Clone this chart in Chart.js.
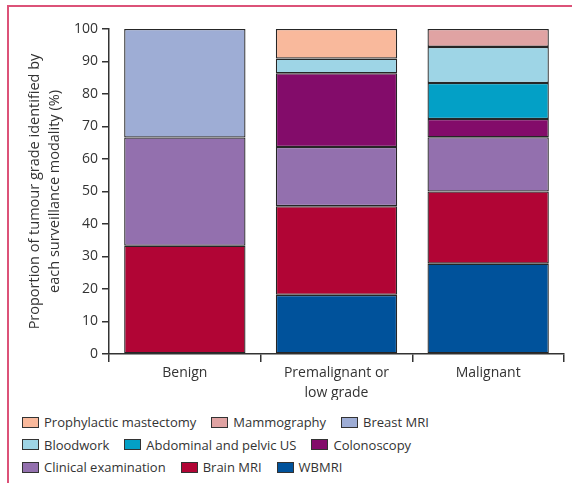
<!DOCTYPE html>
<html>
<head>
<meta charset="utf-8">
<script src="https://cdn.jsdelivr.net/npm/chart.js@4/dist/chart.umd.min.js"></script>
<style>
  html, body { margin: 0; padding: 0; background: #fff; }
  body { width: 572px; height: 483px; position: relative; overflow: hidden; font-family: "Open Sans", sans-serif; color: #333; }
  .frame { position: absolute; left: 7px; top: 5px; right: -4px; bottom: -4px; border-top: 2px solid #dc5278; border-left: 2px solid #dc5278; pointer-events: none; }
  #wrap { position: absolute; left: 0; top: 0; width: 572px; height: 400px; }
  #legend { position: absolute; left: 22px; top: 411px; font-size: 13px; line-height: 22px; }
  .row { display: flex; align-items: center; height: 22.5px; }
  .item { display: flex; align-items: center; margin-right: 15px; white-space: nowrap; }
  .box { width: 15px; height: 9px; border: 1.5px solid #333; margin-right: 5px; }
</style>
</head>
<body>
<div class="frame"></div>
<div id="wrap"><canvas id="chart" width="572" height="400"></canvas></div>
<div id="legend"></div>
<script>
// Tumour grade categories (x axis)
const categories = [['Benign'], ['Premalignant or', 'low grade'], ['Malignant']];

// Share (%) of each grade identified by each surveillance modality, stacked bottom-up
// (null = modality identified no tumours of that grade)
const wbmri        = [null, 18.2, 27.8];
const brainMri     = [33.3, 27.3, 22.2];
const clinicalExam = [33.3, 18.2, 16.7];
const colonoscopy  = [null, 22.7, 5.6];
const abdominalUs  = [null, null, 11.1];
const bloodwork    = [null, 4.5,  11.1];
const breastMri    = [33.4, null, null];
const mammography  = [null, null, 5.5];
const prophylactic = [null, 9.1,  null];

const yTicks = [0, 10, 20, 30, 40, 50, 60, 70, 80, 90, 100];

const ink = '#333333';
const font = 'Open Sans';

const series = [
  { label: 'WBMRI',                    data: wbmri,        color: '#00529b' },
  { label: 'Brain MRI',                data: brainMri,     color: '#b10535' },
  { label: 'Clinical examination',     data: clinicalExam, color: '#9370ae' },
  { label: 'Colonoscopy',              data: colonoscopy,  color: '#830c6a' },
  { label: 'Abdominal and pelvic US',  data: abdominalUs,  color: '#03a0c6' },
  { label: 'Bloodwork',                data: bloodwork,    color: '#9ed5e6' },
  { label: 'Breast MRI',               data: breastMri,    color: '#9eadd5' },
  { label: 'Mammography',              data: mammography,  color: '#e0a3a3' },
  { label: 'Prophylactic mastectomy',  data: prophylactic, color: '#f9b99c' }
];

const chart = new Chart(document.getElementById('chart'), {
  type: 'bar',
  data: {
    labels: categories,
    datasets: series.map(s => ({
      label: s.label,
      data: s.data,
      backgroundColor: s.color,
      borderColor: '#262626',
      borderWidth: 1.3,
      borderSkipped: false,
      barPercentage: 0.8,
      categoryPercentage: 1.0
    }))
  },
  options: {
    responsive: false,
    animation: false,
    layout: { padding: { left: 8, right: 8, top: 29, bottom: 0 } },
    plugins: { legend: { display: false }, tooltip: { enabled: false } },
    scales: {
      x: {
        stacked: true,
        offset: true,
        grid: { offset: true, drawOnChartArea: false, tickLength: 8, color: ink, lineWidth: 1.5 },
        border: { color: ink, width: 1.5 },
        ticks: { color: ink, padding: 1, font: { family: font, size: 14, lineHeight: 1.45 } },
        afterFit: s => { s.height = 46; }
      },
      y: {
        stacked: true,
        min: 0,
        max: 100,
        afterBuildTicks: s => { s.ticks = yTicks.map(v => ({ value: v })); },
        grid: { drawOnChartArea: false, tickLength: 7, color: ink, lineWidth: 1.5 },
        border: { color: ink, width: 1.5 },
        ticks: { color: ink, padding: 4, font: { family: font, size: 14 } },
        title: {
          display: true,
          text: ['Proportion of tumour grade identified by', 'each surveillance modality (%)'],
          color: ink,
          font: { family: font, size: 14.5, lineHeight: 20 / 14.5 },
          padding: { top: 17, bottom: 0 }
        },
        afterFit: s => { s.width = 101; }
      }
    }
  }
});

// Legend: three rows, listed from top of the stack downwards
const legend = document.getElementById('legend');
const ordered = chart.data.datasets.slice().reverse();
for (let r = 0; r < 3; r++) {
  const row = document.createElement('div');
  row.className = 'row';
  ordered.slice(r * 3, r * 3 + 3).forEach(ds => {
    const item = document.createElement('div');
    item.className = 'item';
    const box = document.createElement('span');
    box.className = 'box';
    box.style.background = ds.backgroundColor;
    const txt = document.createElement('span');
    txt.textContent = ds.label;
    item.appendChild(box);
    item.appendChild(txt);
    row.appendChild(item);
  });
  legend.appendChild(row);
}
</script>
</body>
</html>
